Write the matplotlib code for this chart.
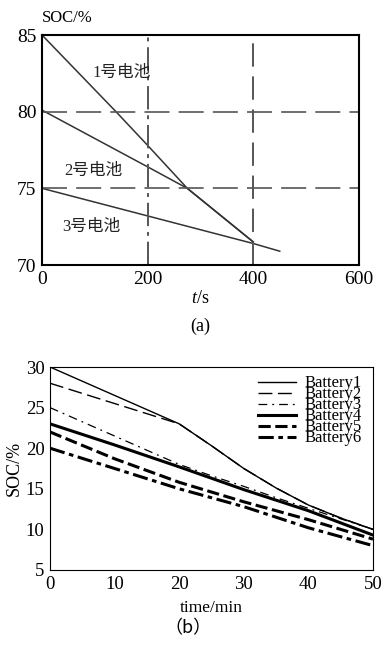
import numpy as np
import matplotlib.pyplot as plt

plt.rcParams['font.family'] = ['Liberation Serif', 'Noto Sans CJK SC']
plt.rcParams['mathtext.fontset'] = 'custom'
plt.rcParams['mathtext.it'] = 'Liberation Serif:italic'
plt.rcParams['mathtext.rm'] = 'Liberation Serif'

# panel (a)
t1 = [0, 140, 200, 275, 400]
soc1 = [85, 80, 77.8, 75, 71.5]
t2 = [0, 200, 275, 400]
soc2 = [80.1, 76.4, 75, 71.5]
t3 = [0, 200, 400, 450]
soc3 = [75, 73.2, 71.4, 70.9]
a_labels = ['1号电池', '2号电池', '3号电池']
a_label_pos = [(95, 82.5), (42, 76.1), (38, 72.5)]

# panel (b)
time_b = [0, 10, 20, 25, 30, 35, 40, 45, 50]
bat = {
    'Battery1': [30, 26.5, 23, 20.3, 17.5, 15.1, 13.0, 11.4, 10.0],
    'Battery2': [28, 25.5, 23, 20.3, 17.5, 15.1, 13.0, 11.4, 10.0],
    'Battery3': [25, 21.5, 18, 16.6, 15.3, 13.9, 12.6, 11.3, 10.0],
    'Battery4': [23, 20.4, 17.7, 16.3, 14.9, 13.6, 12.3, 10.8, 9.3],
    'Battery5': [22, 18.7, 15.8, 14.6, 13.4, 12.3, 11.2, 10.0, 8.8],
    'Battery6': [20, 17.5, 15.0, 13.9, 12.8, 11.5, 10.2, 9.1, 8.0],
}
styles = {
    'Battery1': dict(ls='-', lw=1.0),
    'Battery2': dict(ls=(0, (10, 4)), lw=1.0),
    'Battery3': dict(ls=(0, (7, 4, 1.5, 4)), lw=0.9),
    'Battery4': dict(ls='-', lw=2.2),
    'Battery5': dict(ls=(0, (4, 1.5)), lw=2.2),
    'Battery6': dict(ls=(0, (5, 1.5, 1.5, 1.5)), lw=2.2),
}

fig = plt.figure(figsize=(3.89, 6.49), dpi=100)
W, H = 389, 649

ax1 = fig.add_axes([42 / W, 1 - 265 / H, (359 - 42) / W, (265 - 35) / H])
ax1.plot(t1, soc1, color='#333333', lw=1.1)
ax1.plot(t2, soc2, color='#333333', lw=1.1)
ax1.plot(t3, soc3, color='#333333', lw=1.1)
ax1.axvline(200, color='#555555', lw=1.4, ls=(0, (12, 3, 2, 3)))
ax1.axvline(400, color='#555555', lw=1.4, ls=(0, (12, 5)))
ax1.axhline(80, color='#555555', lw=1.2, ls=(0, (15, 5.5)))
ax1.axhline(75, color='#555555', lw=1.2, ls=(0, (15, 5.5)))
for lab, (x, y) in zip(a_labels, a_label_pos):
    ax1.text(x, y, lab, fontsize=12, color='#222222', va='center')
ax1.set_xlim(0, 600)
ax1.set_ylim(70, 85)
ax1.set_xticks([0, 200, 400, 600])
ax1.set_yticks([70, 75, 80, 85])
ax1.tick_params(length=0, labelsize=14, pad=4)
for s in ax1.spines.values():
    s.set_linewidth(1.5)
ax1.set_xlabel('$t$/s', fontsize=13, labelpad=2)
fig.text(42 / W, 1 - 18 / H, 'SOC/%', fontsize=12, va='center', ha='left')
fig.text(200 / W, 1 - 326 / H, '(a)', fontsize=13, ha='center', va='center')

ax2 = fig.add_axes([50 / W, 1 - 570 / H, (373 - 50) / W, (570 - 367) / H])
for name, vals in bat.items():
    ax2.plot(time_b, vals, color='black', label=name, **styles[name])
ax2.set_xlim(0, 50)
ax2.set_ylim(5, 30)
ax2.set_xticks([0, 10, 20, 30, 40, 50])
ax2.set_yticks([5, 10, 15, 20, 25, 30])
ax2.tick_params(length=0, labelsize=13.5, pad=4)
ax2.set_xlabel('time/min', fontsize=12.5, labelpad=5)
ax2.set_ylabel('SOC/%', fontsize=13, labelpad=2)
ax2.legend(loc='upper right', bbox_to_anchor=(0.992, 1.0), frameon=False,
           fontsize=12, handlelength=2.3, labelspacing=-0.3,
           borderaxespad=0.2, handletextpad=0.5, borderpad=0.3)
fig.text(188 / W, 1 - 628 / H, '（b）', fontsize=13, ha='center', va='center',
         family=['Noto Sans CJK SC', 'Liberation Serif'])

fig.savefig('out.png', dpi=100)
